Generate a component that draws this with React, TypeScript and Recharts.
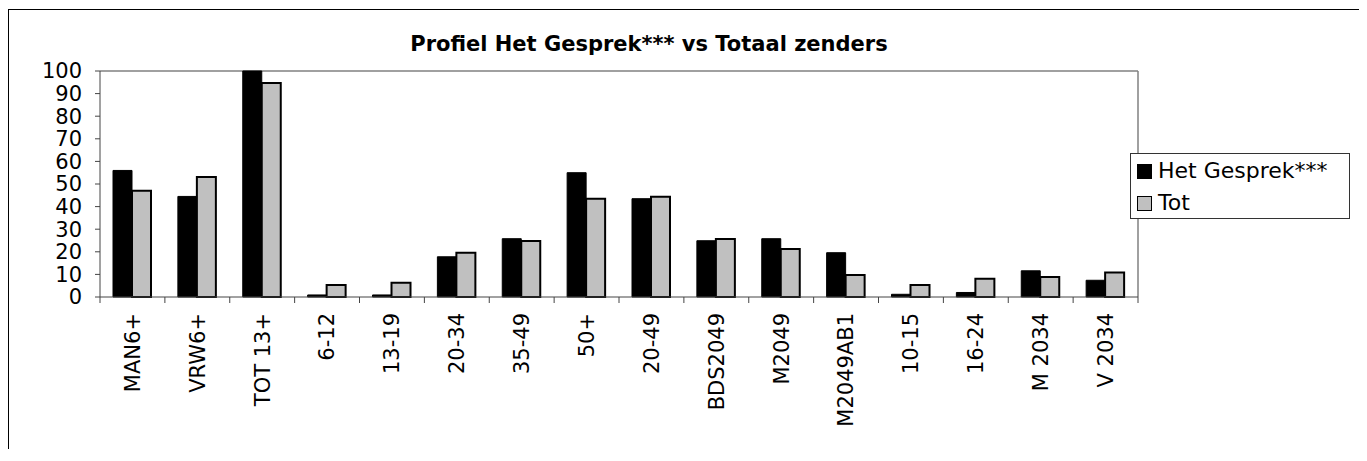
import React from 'react';
import { BarChart, Bar, XAxis, YAxis, CartesianGrid } from 'recharts';

const categories = ['MAN6+', 'VRW6+', 'TOT 13+', '6-12', '13-19', '20-34', '35-49', '50+', '20-49', 'BDS2049', 'M2049', 'M2049AB1', '10-15', '16-24', 'M 2034', 'V 2034'];
const hetGesprek = [56, 44.5, 100, 0.9, 0.9, 17.8, 25.8, 55, 43.5, 24.9, 25.8, 19.6, 1.2, 2, 11.6, 7.4];
const totaal = [47, 53.1, 94.7, 5.3, 6.3, 19.6, 24.8, 43.5, 44.4, 25.7, 21.2, 9.7, 5.3, 8.1, 8.8, 10.8];
const yTicks = [0, 10, 20, 30, 40, 50, 60, 70, 80, 90, 100];
const seriesNames = ['Het Gesprek***', 'Tot'];
const seriesColors = ['#000000', '#C0C0C0'];
const title = 'Profiel Het Gesprek*** vs Totaal zenders';

const data = categories.map((c, i) => ({ name: c, g: hetGesprek[i], t: totaal[i] }));

const FONT = '"DejaVu Sans", Verdana, sans-serif';
const W = 1350;
const H = 440;
const PLOT_LEFT = 91;
const PLOT_TOP = 61;
const PLOT_RIGHT = 1129;
const PLOT_BOTTOM = 287;
const Y_AXIS_W = 50;
const X_AXIS_H = 120;
const BAND = (PLOT_RIGHT - PLOT_LEFT) / categories.length;
const TICK_FONT = 21;

const XTick = (props: any) => {
  const { x, payload, index } = props;
  const ly = PLOT_BOTTOM + 16;
  return (
    <g>
      <line x1={x - BAND / 2} x2={x - BAND / 2} y1={PLOT_BOTTOM} y2={PLOT_BOTTOM + 6} stroke="#444" strokeWidth={1} />
      {index === categories.length - 1 && (
        <line x1={x + BAND / 2} x2={x + BAND / 2} y1={PLOT_BOTTOM} y2={PLOT_BOTTOM + 6} stroke="#444" strokeWidth={1} />
      )}
      <text
        x={x}
        y={ly}
        dy="0.35em"
        textAnchor="end"
        transform={`rotate(-90, ${x}, ${ly})`}
        fontFamily={FONT}
        fontSize={TICK_FONT}
        fill="#000"
      >
        {payload.value}
      </text>
    </g>
  );
};

const LegendBox = () => (
  <div
    style={{
      position: 'absolute',
      left: 1121,
      top: 143,
      width: 220,
      height: 66,
      border: '1px solid #333',
      boxSizing: 'border-box',
      background: '#fff',
      fontFamily: FONT,
      fontSize: 22,
      color: '#000',
    }}
  >
    {seriesNames.map((n, i) => (
      <div key={n} style={{ position: 'absolute', left: 6, top: 5 + i * 32, height: 24, display: 'flex', alignItems: 'center' }}>
        <span
          style={{
            display: 'inline-block',
            width: 13,
            height: 13,
            background: seriesColors[i],
            border: '1px solid #000',
            marginRight: 6,
          }}
        />
        <span style={{ lineHeight: '24px', whiteSpace: 'nowrap' }}>{n}</span>
      </div>
    ))}
  </div>
);

export default function App() {
  return (
    <div
      style={{
        position: 'relative',
        top: 1,
        width: W,
        height: H,
        borderTop: '1px solid #000',
        borderLeft: '1px solid #000',
        overflow: 'hidden',
        fontFamily: FONT,
        background: '#fff',
      }}
    >
      <div
        style={{
          position: 'absolute',
          left: 340,
          top: 22,
          width: 600,
          textAlign: 'center',
          fontWeight: 'bold',
          fontSize: 21,
          lineHeight: '24px',
          fontFamily: FONT,
          color: '#000',
          whiteSpace: 'nowrap',
        }}
      >
        {title}
      </div>
      <BarChart
        width={W}
        height={H}
        data={data}
        margin={{ top: PLOT_TOP, right: W - PLOT_RIGHT, left: PLOT_LEFT - Y_AXIS_W, bottom: H - PLOT_BOTTOM - X_AXIS_H }}
        barGap={0}
        barSize={19}
      >
        <CartesianGrid
          horizontalPoints={[PLOT_TOP]}
          verticalPoints={[PLOT_RIGHT]}
          stroke="#808080"
          strokeWidth={1.5}
        />
        <XAxis
          dataKey="name"
          interval={0}
          height={X_AXIS_H}
          tickLine={false}
          axisLine={{ stroke: '#444', strokeWidth: 1 }}
          tick={<XTick />}
        />
        <YAxis
          width={Y_AXIS_W}
          domain={[0, 100]}
          ticks={yTicks}
          interval={0}
          tickSize={5}
          tickMargin={13}
          axisLine={{ stroke: '#444', strokeWidth: 1 }}
          tickLine={{ stroke: '#444' }}
          tick={{ fontFamily: FONT, fontSize: TICK_FONT, fill: '#000' }}
        />
        <Bar dataKey="g" name={seriesNames[0]} fill={seriesColors[0]} stroke="#000" strokeWidth={1} isAnimationActive={false} />
        <Bar dataKey="t" name={seriesNames[1]} fill={seriesColors[1]} stroke="#000" strokeWidth={2} isAnimationActive={false} />
      </BarChart>
      <LegendBox />
    </div>
  );
}
